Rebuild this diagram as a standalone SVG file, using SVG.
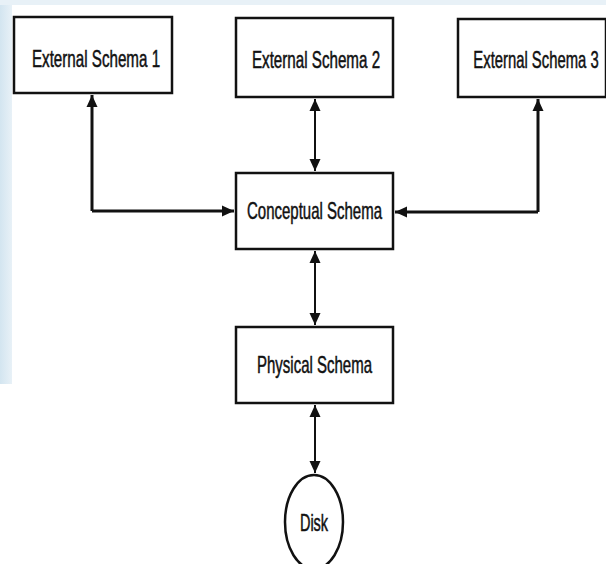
<svg xmlns="http://www.w3.org/2000/svg" width="606" height="564" viewBox="0 0 606 564">
  <style>
    .box { fill: #ffffff; stroke: #111111; stroke-width: 2.5; }
    .lbl { font-family: "Liberation Sans", Arial, sans-serif; font-size: 23px; fill: #111111; stroke: #111111; stroke-width: 0.5; text-anchor: middle; }
    .conn { fill: none; stroke: #111111; stroke-width: 2; }
    .thick { stroke-width: 3; }
  </style>
  <defs>
    <marker id="ah" markerUnits="userSpaceOnUse" markerWidth="13" markerHeight="13" viewBox="0 0 13 13" refX="12" refY="6.5" orient="auto-start-reverse">
      <path d="M0,1 L12,6.5 L0,12 Z" fill="#111111"/>
    </marker>
    <linearGradient id="lg" x1="0" y1="0" x2="1" y2="0">
      <stop offset="0" stop-color="#d3e5f0"/>
      <stop offset="1" stop-color="#e8f1f7"/>
    </linearGradient>
  </defs>
  <rect x="0" y="0" width="606" height="564" fill="#ffffff"/>
  <rect x="0" y="0" width="12" height="384" fill="url(#lg)"/>
  <rect x="0" y="0" width="606" height="5" fill="#e8f1f7"/>

  <g id="connectors">
    <path class="conn thick" d="M92,211 L92,95" marker-end="url(#ah)"/>
    <path class="conn thick" d="M92,211 L234,211" marker-end="url(#ah)"/>
    <path class="conn" d="M315,99 L315,171" marker-start="url(#ah)" marker-end="url(#ah)"/>
    <path class="conn thick" d="M538,212 L538,99" marker-end="url(#ah)"/>
    <path class="conn thick" d="M538,212 L395,212" marker-end="url(#ah)"/>
    <path class="conn" d="M315,251 L315,325" marker-start="url(#ah)" marker-end="url(#ah)"/>
    <path class="conn" d="M315,405 L315,473" marker-start="url(#ah)" marker-end="url(#ah)"/>
  </g>

  <g id="external1">
    <rect class="box" x="14" y="17" width="158" height="76"/>
    <text class="lbl" transform="translate(96,67) scale(0.66,1)">External Schema 1</text>
  </g>
  <g id="external2">
    <rect class="box" x="236" y="18" width="157" height="79"/>
    <text class="lbl" transform="translate(316,68) scale(0.66,1)">External Schema 2</text>
  </g>
  <g id="external3">
    <rect class="box" x="458" y="19" width="148" height="78"/>
    <text class="lbl" transform="translate(536,68) scale(0.645,1)">External Schema 3</text>
  </g>
  <g id="conceptual">
    <rect class="box" x="236" y="173" width="157" height="76"/>
    <text class="lbl" transform="translate(314.5,219) scale(0.652,1)">Conceptual Schema</text>
  </g>
  <g id="physical">
    <rect class="box" x="236" y="327" width="157" height="76"/>
    <text class="lbl" transform="translate(314.5,373) scale(0.652,1)">Physical Schema</text>
  </g>
  <g id="disk">
    <ellipse class="box" cx="314" cy="522" rx="29" ry="47"/>
    <text class="lbl" transform="translate(314,531) scale(0.63,1)">Disk</text>
  </g>
</svg>
